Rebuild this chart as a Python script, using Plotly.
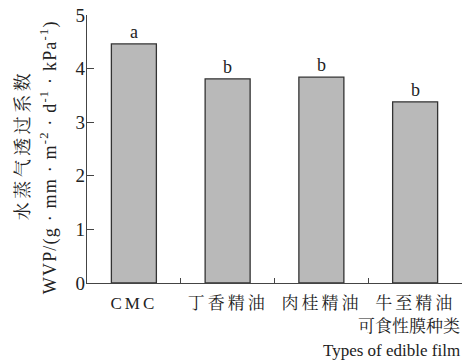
import plotly.graph_objects as go

categories = ["CMC", "丁香精油", "肉桂精油", "牛至精油"]
wvp = [4.46, 3.81, 3.84, 3.38]
letters = ["a", "b", "b", "b"]
y_ticks = [0, 1, 2, 3, 4, 5]

SERIF = "Liberation Serif, Times New Roman, Noto Serif CJK SC, Noto Sans CJK SC, serif"

fig = go.Figure()
fig.add_trace(go.Bar(
    x=categories, y=wvp, width=0.48,
    marker=dict(color="#b9b9b9", line=dict(color="#333333", width=1.3)),
    showlegend=False, hoverinfo="skip",
))

for c, v, l in zip(categories, wvp, letters):
    fig.add_annotation(x=c, y=v, text=l, showarrow=False, yanchor="bottom",
                       yshift=0, font=dict(family=SERIF, size=18, color="#222"))

fig.add_annotation(xref="paper", yref="paper", x=0, y=0.515, xanchor="center", yanchor="middle",
                   xshift=-64, textangle=-90, showarrow=False, name="ytitle1",
                   text="水蒸气透过系数", font=dict(family=SERIF, size=18, color="#222"))
fig.add_annotation(xref="paper", yref="paper", x=0, y=0.47, xanchor="center", yanchor="middle",
                   xshift=-38, textangle=-90, showarrow=False, name="ytitle2",
                   text="WVP/(g · mm · m<sup>-2</sup> · d<sup>-1</sup> · kPa<sup>-1</sup>)",
                   font=dict(family=SERIF, size=18, color="#222"))
fig.add_annotation(xref="paper", yref="paper", x=1, y=0, xanchor="right", yanchor="middle",
                   yshift=-43, showarrow=False, text="可食性膜种类",
                   font=dict(family=SERIF, size=17, color="#222"))
fig.add_annotation(xref="paper", yref="paper", x=1, y=0, xanchor="right", yanchor="middle",
                   yshift=-67, showarrow=False, text="Types of edible film",
                   font=dict(family=SERIF, size=17, color="#222"))

fig.update_layout(
    width=464, height=362,
    margin=dict(l=87, r=2, t=15, b=79),
    paper_bgcolor="white", plot_bgcolor="white",
    font=dict(family=SERIF, size=18, color="#222"),
    bargap=0.52,
)
fig.update_xaxes(
    type="category", range=[-0.5, 3.5], showline=True, linecolor="#444", linewidth=1.3,
    ticks="inside", tickson="boundaries", ticklen=5, tickcolor="#444", tickwidth=1.3,
    showgrid=False, tickfont=dict(family=SERIF, size=17, color="#222"),
    ticklabelstandoff=4,
)
fig.update_yaxes(
    range=[0, 5], tickvals=y_ticks, showline=True, linecolor="#444", linewidth=1.3,
    ticks="inside", ticklen=7, tickcolor="#444", tickwidth=1.3, showgrid=False, zeroline=False,
    tickfont=dict(family=SERIF, size=19, color="#222"), ticklabelstandoff=-3,
)

post = """
document.body.style.margin = '0';
document.body.style.padding = '0';
var gd = document.getElementById('{plot_id}');
gd.querySelectorAll('.xtick text').forEach(function(t){ t.style.letterSpacing = '3px'; });
gd.querySelectorAll('.annotation-text').forEach(function(t){
  var s = t.textContent;
  if (s.indexOf('水蒸气') === 0) { t.style.letterSpacing = '3.5px'; }
  else if (s.indexOf('WVP') === 0) { t.style.letterSpacing = '1.2px'; }
});
"""
fig.write_html("out.html", post_script=post, config={"displayModeBar": False})
